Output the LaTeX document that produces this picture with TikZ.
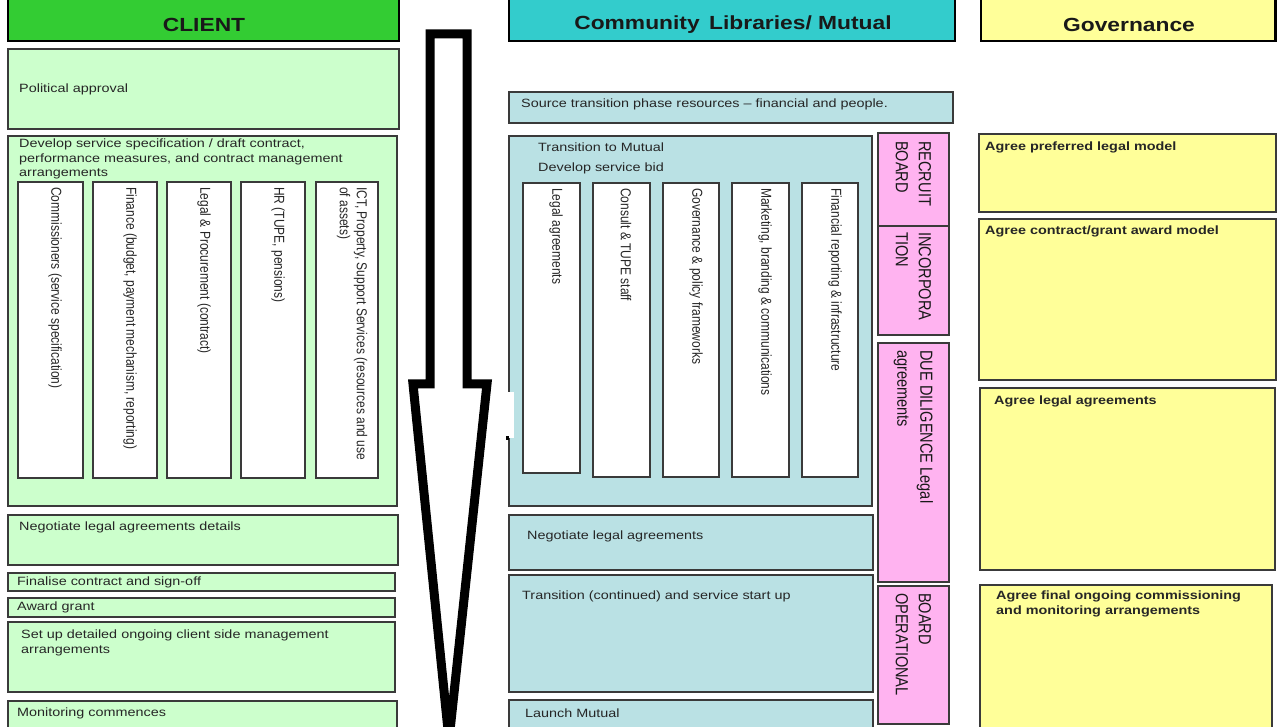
\documentclass[tikz,border=0pt]{standalone}
\usepackage{fontspec}
\setmainfont{Liberation Sans}[FakeStretch=1.2]
\newfontfamily\rotfont{Liberation Sans}[FakeStretch=0.833]
\definecolor{hgreen}{HTML}{33CC33}
\definecolor{lgreen}{HTML}{CCFFCC}
\definecolor{hcyan}{HTML}{33CCCC}
\definecolor{lblue}{HTML}{BAE1E4}
\definecolor{lpink}{HTML}{FFB3F0}
\definecolor{lyellow}{HTML}{FFFF99}
\definecolor{bord}{HTML}{3A3A3A}
\begin{document}
\begin{tikzpicture}[x=1pt,y=-1pt,
  box/.style={draw=bord, line width=1.6pt},
  hdr/.style={draw=black, line width=2.8pt},
  txt/.style={inner sep=0pt, anchor=west, align=left, font=\fontsize{12}{14.5}\selectfont, text=black!85},
  btxt/.style={txt, font=\fontsize{12}{14.5}\selectfont\bfseries},
  htxt/.style={inner sep=0pt, anchor=center, font=\fontsize{19}{22}\selectfont\bfseries, text=black!90},
  rtxt/.style={inner sep=0pt, anchor=west, rotate=-90, align=left, font=\rotfont\fontsize{14.4}{17}\selectfont, text=black!85},
  ptxt/.style={inner sep=0pt, anchor=west, rotate=-90, align=left, font=\rotfont\fontsize{17.5}{23}\selectfont, text=black!90},
  arrowshape/.style={draw=black, fill=white, line width=9pt, line join=miter, miter limit=4}]
\useasboundingbox (0,0) rectangle (1278,727);

% headers
\path[hdr, fill=hgreen] (8,-10) rectangle (399,41);
\path[hdr, fill=hcyan] (509,-10) rectangle (955,41);
\path[hdr, fill=lyellow] (981,-10) rectangle (1275.5,41);
\node[htxt] (hclient) at (204,25) {CLIENT};
\node[htxt] (hcomm) at (733,25) {Community\, Libraries/ Mutual};
\node[htxt] (hgov) at (1129,25) {Governance};

% client column
\path[box, fill=lgreen] (8,49) rectangle (399,129);
\path[box, fill=lgreen] (8,136) rectangle (397,506);
\path[box, fill=white] (18,182) rectangle (83,478);
\path[box, fill=white] (93,182) rectangle (157,478);
\path[box, fill=white] (167,182) rectangle (231,478);
\path[box, fill=white] (241,182) rectangle (305,478);
\path[box, fill=white] (316,182) rectangle (378,478);
\path[box, fill=lgreen] (8,515) rectangle (398,565);
\path[box, fill=lgreen] (8,573) rectangle (395,591);
\path[box, fill=lgreen] (8,598) rectangle (395,617);
\path[box, fill=lgreen] (8,622) rectangle (395,692);
\path[box, fill=lgreen] (8,701) rectangle (397,735);

\node[txt] (pol) at (19,89) {Political approval};
\node[txt, anchor=north west] (dev) at (19,139) {Develop service specification / draft contract,\\performance measures, and contract management\\arrangements};
\node[rtxt] (s1) at (55,187) {Commissioners (service specification)};
\node[rtxt] (s2) at (130,187) {Finance (budget, payment mechanism, reporting)};
\node[rtxt] (s3) at (204,187) {Legal \& Procurement (contract)};
\node[rtxt] (s4) at (278,187) {HR (TUPE, pensions)};
\node[rtxt] (s5) at (352,187) {ICT, Property, Support Services (resources and use\\of assets)};
\node[txt] (neg) at (19,527) {Negotiate legal agreements details};
\node[txt] (fin) at (17,582) {Finalise contract and sign-off};
\node[txt] (awd) at (17,607) {Award grant};
\node[txt, anchor=north west] (set) at (21,630) {Set up detailed ongoing client side management\\arrangements};
\node[txt] (mon) at (17,713) {Monitoring commences};

% community column
\path[box, fill=lblue] (509,92) rectangle (953,123);
\path[box, fill=lblue] (509,136) rectangle (872,506);
\path[box, fill=white] (523,183) rectangle (580,473);
\path[box, fill=white] (593,183) rectangle (650,477);
\path[box, fill=white] (663,183) rectangle (719,477);
\path[box, fill=white] (732,183) rectangle (789,477);
\path[box, fill=white] (802,183) rectangle (858,477);
\path[box, fill=lblue] (509,515) rectangle (873,570);
\path[box, fill=lblue] (509,575) rectangle (873,692);
\path[box, fill=lblue] (509,700) rectangle (873,735);
\fill[white] (507.5,392) rectangle (514,438);
\fill[black] (505.5,436) rectangle (508.5,440);

\node[txt] (src) at (521,104) {Source transition phase resources -- financial and people.};
\node[txt] (ttm) at (538,147) {Transition to Mutual};
\node[txt] (dsb) at (538,168) {Develop service bid};
\node[rtxt] (c1) at (556,188) {Legal agreements};
\node[rtxt] (c2) at (626,188) {Consult \& TUPE staff};
\node[rtxt] (c3) at (696,188) {Governance \& policy frameworks};
\node[rtxt] (c4) at (765,188) {Marketing, branding \& communications};
\node[rtxt] (c5) at (835,188) {Financial reporting \& infrastructure};
\node[txt] (negm) at (527,536) {Negotiate legal agreements};
\node[txt] (trc) at (522,596) {Transition (continued) and service start up};
\node[txt] (lau) at (525,713) {Launch Mutual};

% pink column
\path[box, fill=lpink] (878,133) rectangle (949,226);
\path[box, fill=lpink] (878,226) rectangle (949,335);
\path[box, fill=lpink] (878,343) rectangle (949,582);
\path[box, fill=lpink] (878,586) rectangle (949,724);
\node[ptxt] (p1) at (913.5,141) {RECRUIT\\BOARD};
\node[ptxt] (p2) at (913.5,232) {INCORPORA\\TION};
\node[ptxt] (p3) at (913.5,350) {DUE DILIGENCE Legal\\agreements};
\node[ptxt] (p4) at (913.5,593) {BOARD\\OPERATIONAL};

% governance column
\path[box, fill=lyellow] (979,134) rectangle (1276,212);
\path[box, fill=lyellow] (979,219) rectangle (1276,380);
\path[box, fill=lyellow] (980,388) rectangle (1275,570);
\path[box, fill=lyellow] (980,585) rectangle (1272,735);
\node[btxt] (g1) at (985,147) {Agree preferred legal model};
\node[btxt] (g2) at (985,231) {Agree contract/grant award model};
\node[btxt] (g3) at (994,401) {Agree legal agreements};
\node[btxt, anchor=north west] (g4) at (996,591) {Agree final ongoing commissioning\\and monitoring arrangements};

% big arrow
\draw[arrowshape] (430,34) -- (467,34) -- (467,384) -- (487,384) -- (449,740) -- (413,384) -- (430,384) -- cycle;
\end{tikzpicture}
\end{document}
